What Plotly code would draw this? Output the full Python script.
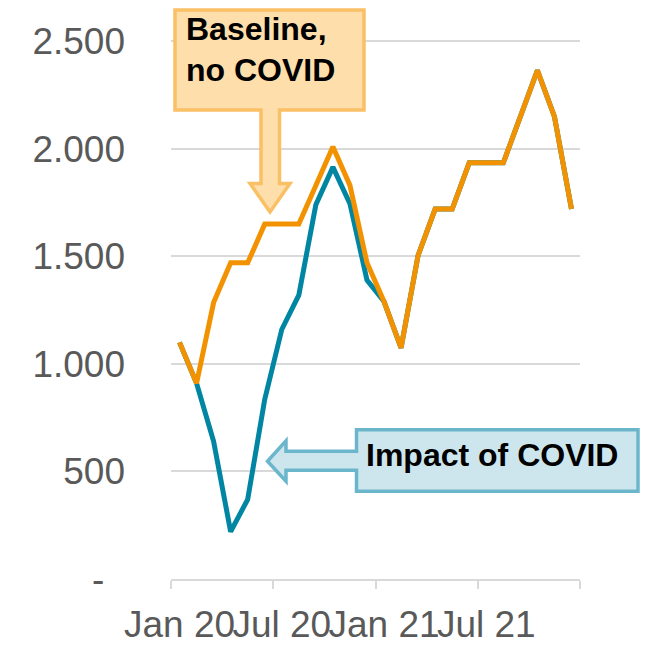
import plotly.graph_objects as go

# ---------------- data ----------------
months = ["Jan 20", "Feb 20", "Mar 20", "Apr 20", "May 20", "Jun 20",
          "Jul 20", "Aug 20", "Sep 20", "Oct 20", "Nov 20", "Dec 20",
          "Jan 21", "Feb 21", "Mar 21", "Apr 21", "May 21", "Jun 21",
          "Jul 21", "Aug 21", "Sep 21", "Oct 21", "Nov 21", "Dec 21"]
baseline = [1100, 910, 1285, 1470, 1470, 1650, 1650, 1650, 1830, 2010, 1830, 1470,
            1290, 1075, 1505, 1720, 1720, 1935, 1935, 1935, 2150, 2365, 2150, 1720]
with_covid = [1100, 910, 640, 220, 370, 835, 1160, 1320, 1740, 1915, 1745, 1390,
              1290, 1075, 1505, 1720, 1720, 1935, 1935, 1935, 2150, 2365, 2150, 1720]
x_tick_labels = ["Jan 20", "Jul 20", "Jan 21", "Jul 21"]
y_tick_vals = [0, 500, 1000, 1500, 2000, 2500]
y_tick_text = ["-\u00a0\u00a0", "500", "1.000", "1.500", "2.000", "2.500"]

# month index positions (points centred in each month bin)
xpos = [i + 0.5 for i in range(len(months))]
label_pos = [xpos[months.index(m)] for m in x_tick_labels]

FONT = "Liberation Sans, Arial, sans-serif"
GRID = "#D9D9D9"
ORANGE = "#F39200"
TEAL = "#0086A3"

fig = go.Figure()
fig.add_trace(go.Scatter(x=xpos, y=with_covid, mode="lines",
                         line=dict(color=TEAL, width=5), hoverinfo="skip",
                         showlegend=False))
fig.add_trace(go.Scatter(x=xpos, y=baseline, mode="lines",
                         line=dict(color=ORANGE, width=5), hoverinfo="skip",
                         showlegend=False))

# page geometry: the html body has an 8px margin
OFF = 8
W, H = 654 - OFF, 649 - OFF
# plot area in screen pixels
L, R, T, B = 171, 580, 37, 579.3


def px(x):
    return (x - L) / (R - L)


def py(y):
    return (B - y) / (B - T)


def path(points):
    return "M " + " L ".join(f"{px(x):.5f},{py(y):.5f}" for x, y in points) + " Z"


# Baseline down-arrow callout (screen pixel outline)
base_pts = [(175, 10), (364, 10), (364, 110), (279.5, 110), (279.5, 183.5),
            (290, 183.5), (270, 212), (250, 183.5), (261, 183.5), (261, 110),
            (175, 110)]
# Impact left-arrow callout
imp_pts = [(356.5, 430), (638, 430), (638, 491.5), (356.5, 491.5), (356.5, 470.5),
           (286, 470.5), (286, 481.5), (267.5, 461.5), (286, 441), (286, 451.5),
           (356.5, 451.5)]

fig.update_layout(
    shapes=[
        dict(type="path", xref="paper", yref="paper", path=path(base_pts),
             fillcolor="#FEDEAA", line=dict(color="#FAC065", width=3.5),
             layer="above"),
        dict(type="path", xref="paper", yref="paper", path=path(imp_pts),
             fillcolor="#CDE6ED", line=dict(color="#6CB6CC", width=3.5),
             layer="above"),
    ],
    annotations=[
        dict(text="<b>Baseline,</b>", xref="paper", yref="paper",
             x=px(184), y=py(49), xanchor="left", yanchor="bottom",
             showarrow=False, font=dict(family=FONT, size=32, color="black")),
        dict(text="<b>no COVID</b>", xref="paper", yref="paper",
             x=px(184), y=py(90), xanchor="left", yanchor="bottom",
             showarrow=False, font=dict(family=FONT, size=32, color="black")),
        dict(text="<b>Impact of COVID</b>", xref="paper", yref="paper",
             x=px(364), y=py(475), xanchor="left", yanchor="bottom",
             showarrow=False, font=dict(family=FONT, size=32, color="black")),
    ],
)

fig.update_layout(
    width=W, height=H,
    margin=dict(l=L - OFF, r=654 - R, t=T - OFF, b=649 - B, pad=0, autoexpand=False),
    paper_bgcolor="white", plot_bgcolor="white",
    separators=",.",
    font=dict(family=FONT, color="#595959"),
    xaxis=dict(
        range=[0, 24], tickmode="array", tickvals=label_pos, ticktext=x_tick_labels,
        ticks="", showgrid=False, zeroline=False, tickangle=0, automargin=False,
        showline=True, linecolor=GRID, linewidth=1.5,
        tickfont=dict(family=FONT, size=37, color="#595959"),
        ticklabelstandoff=12,
        minor=dict(tickmode="array", tickvals=[0, 6, 12, 18, 24], ticks="outside",
                   ticklen=8, tickcolor=GRID, tickwidth=1.5, showgrid=False),
    ),
    yaxis=dict(
        range=[0, 2520], tickmode="array", tickvals=y_tick_vals, ticktext=y_tick_text,
        ticks="", showgrid=True, gridcolor=GRID, gridwidth=1.5, zeroline=False,
        showline=False, automargin=False,
        tickfont=dict(family=FONT, size=37, color="#595959"),
        ticklabelstandoff=45,
    ),
)

fig.write_html("out.html")
